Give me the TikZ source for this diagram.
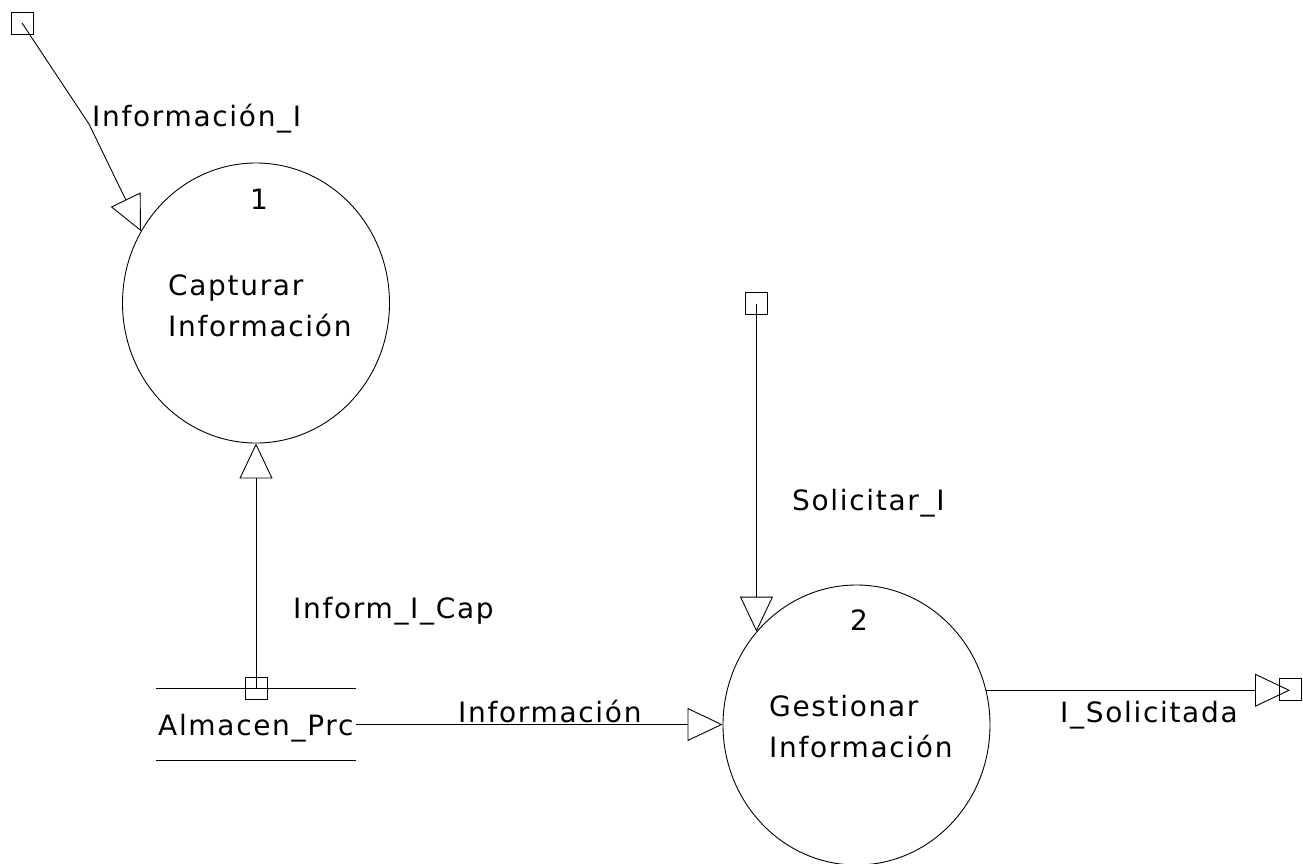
\documentclass[tikz,border=0pt]{standalone}
\usepackage{fontspec}
\setmainfont{DejaVu Sans}[LetterSpace=6]
\usetikzlibrary{arrows.meta,shapes.geometric}
\tikzset{
  flow/.style={line width=0.9pt, -{Triangle[open, length=35pt, width=33pt, line width=0.9pt]}},
  plain/.style={line width=0.9pt},
  process/.style={draw, line width=0.9pt, ellipse, minimum width=267pt, minimum height=280pt, inner sep=0pt},
  term/.style={draw, line width=0.9pt, rectangle, minimum size=22pt, inner sep=0pt},
  lbl/.style={anchor=base west, inner sep=0pt, font=\fontsize{28}{41}\selectfont, align=left},
}
\begin{document}
\begin{tikzpicture}[x=1pt, y=-1pt]
\useasboundingbox (0,0) rectangle (1303,863);

% processes
\node[process] (c1) at (256,303) {};
\node[process] (c2) at (856.5,725) {};
\node[lbl] (n1) at (250,209) {1};
\node[lbl] (n2) at (850,630) {2};
% two-line captions: the base anchor sits on the last line
\node[lbl] (t1) at (168,336) {Capturar\\Información};
\node[lbl] (t2) at (769,757) {Gestionar\\Información};

% data store
\node[minimum width=200pt, minimum height=71pt, inner sep=0pt] (store) at (256,724.5) {};
\draw[plain] (store.north west) -- (store.north east);
\draw[plain] (store.south west) -- (store.south east);
\node[lbl] (st) at (158,735) {Almacen\_Prc};
\node[term] (sq2) at (store.north) {};

% external terminals
\node[term] (sq1) at (22,23) {};
\node[term] (sq3) at (756.5,303.5) {};
\node[term] (sq4) at (1290,689) {};

% flows
\coordinate (bend1) at (89,124);
\draw[flow] (sq1.center) -- (bend1) -- (c1.148);
\draw[flow] (sq2.center) -- (c1.south);
\path (c2.137) coordinate (tip2);
\draw[flow] (sq3.center) -- (sq3.center |- tip2);
\draw[flow] (store.east) -- (store.east -| c2.west);
\draw[flow] (c2.15.6) -- (c2.15.6 -| sq4.center);

% flow labels
\node[lbl] (l1) at (92,126) {Información\_I};
\node[lbl] (l2) at (293,618) {Inform\_I\_Cap};
\node[lbl] (l3) at (792,510) {Solicitar\_I};
\node[lbl] (l4) at (458,722) {Información};
\node[lbl] (l5) at (1060,722) {I\_Solicitada};
\end{tikzpicture}
\end{document}
